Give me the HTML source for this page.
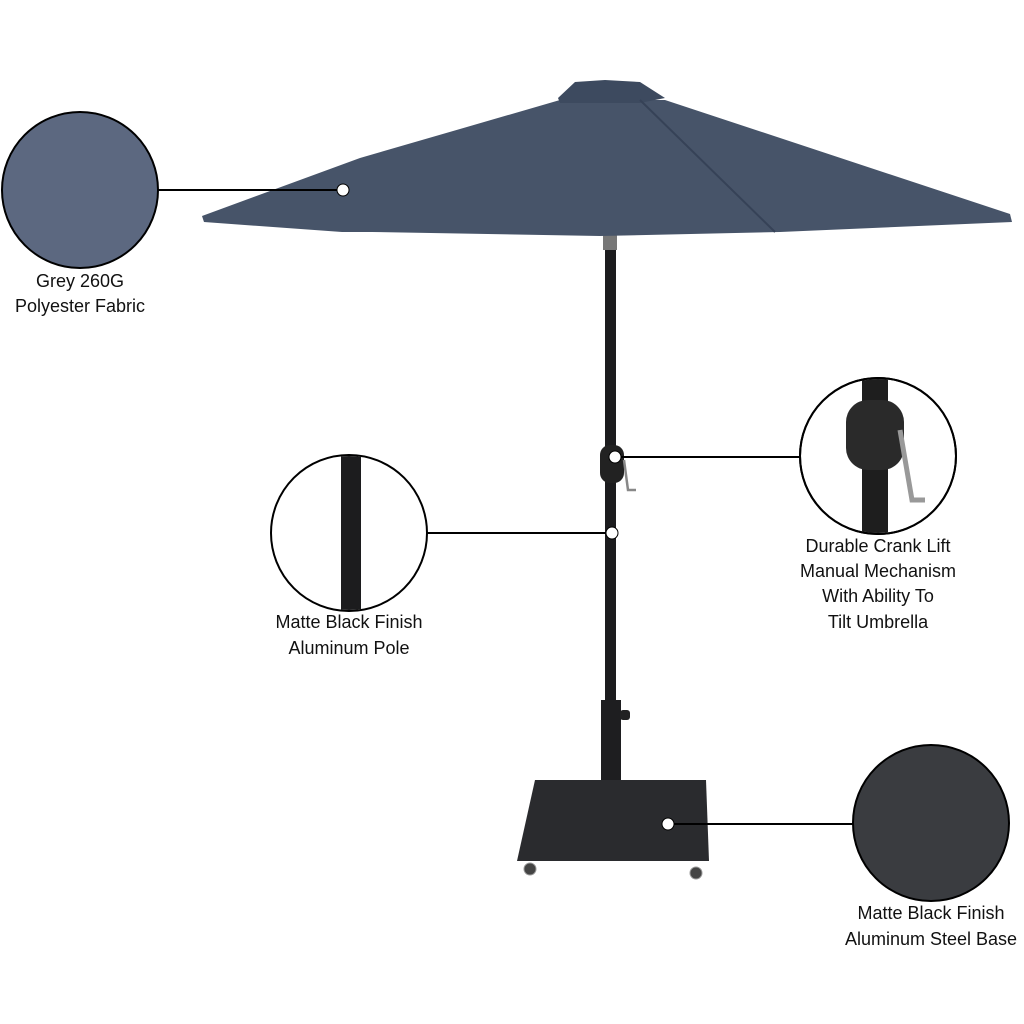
<!DOCTYPE html>
<html><head><style>
body{margin:0;background:#fff;width:1024px;height:1024px;overflow:hidden}
svg{display:block}
text{font-family:"Liberation Sans",sans-serif;font-size:18px;fill:#111;text-anchor:middle}
</style></head><body>
<svg width="1024" height="1024" viewBox="0 0 1024 1024">
<defs>
<clipPath id="c2"><circle cx="349" cy="533" r="77"/></clipPath>
<clipPath id="c3"><circle cx="878" cy="456" r="77"/></clipPath>
</defs>
<!-- pole -->
<rect x="605" y="232" width="11" height="480" fill="#1c1c1e"/>
<rect x="603" y="232" width="14" height="18" fill="#777"/>
<rect x="601" y="700" width="20" height="120" fill="#1e1e20"/>
<rect x="620" y="710" width="10" height="10" rx="3" fill="#222"/>
<rect x="600" y="445" width="24" height="38" rx="10" fill="#222"/>
<path d="M624 460 L628 490 L636 490" stroke="#888" stroke-width="2.5" fill="none"/>
<ellipse cx="615" cy="818" rx="15" ry="5" fill="#111"/>
<!-- base -->
<polygon points="535,780 706,780 709,861 517,861" fill="#2a2b2e"/>
<circle cx="530" cy="869" r="6" fill="#444" stroke="#999"/>
<circle cx="696" cy="873" r="6" fill="#444" stroke="#999"/>
<!-- canopy -->
<polygon points="560,100 665,100 1010,214 1012,222 780,232 600,236 372,232 342,232 204,222 202,216 360,158" fill="#475469"/>
<polygon points="558,98 575,82 605,80 640,82 665,98 640,103 560,103" fill="#3d4a5f"/>
<line x1="640" y1="100" x2="775" y2="232" stroke="#364257" stroke-width="2"/>
<!-- callout circles -->
<circle cx="80" cy="190" r="78" fill="#5c6880" stroke="#000" stroke-width="2"/>
<circle cx="349" cy="533" r="78" fill="#fff" stroke="#000" stroke-width="2"/>
<rect x="341" y="450" width="20" height="170" fill="#1c1c1e" clip-path="url(#c2)"/>
<circle cx="878" cy="456" r="78" fill="#fff" stroke="#000" stroke-width="2"/>
<g clip-path="url(#c3)">
<rect x="862" y="370" width="26" height="170" fill="#1e1e1e"/>
<rect x="846" y="400" width="58" height="70" rx="22" fill="#2a2a2a"/>
<path d="M900 430 L912 500 L925 500" stroke="#999" stroke-width="5" fill="none"/>
</g>
<circle cx="878" cy="456" r="78" fill="none" stroke="#000" stroke-width="2"/>
<circle cx="931" cy="823" r="78" fill="#3a3c40" stroke="#000" stroke-width="2"/>
<!-- leader lines -->
<g stroke="#000" stroke-width="2">
<line x1="158" y1="190" x2="343" y2="190"/>
<line x1="427" y1="533" x2="612" y2="533"/>
<line x1="612" y1="457" x2="800" y2="457"/>
<line x1="668" y1="824" x2="853" y2="824"/>
</g>
<g fill="#fff" stroke="#000" stroke-width="1">
<circle cx="343" cy="190" r="6"/>
<circle cx="612" cy="533" r="6"/>
<circle cx="615" cy="457" r="6"/>
<circle cx="668" cy="824" r="6"/>
</g>
<text x="80" y="287">Grey 260G</text>
<text x="80" y="312">Polyester Fabric</text>
<text x="349" y="628">Matte Black Finish</text>
<text x="349" y="654">Aluminum Pole</text>
<text x="878" y="552">Durable Crank Lift</text>
<text x="878" y="577">Manual Mechanism</text>
<text x="878" y="602">With Ability To</text>
<text x="878" y="628">Tilt Umbrella</text>
<text x="931" y="919">Matte Black Finish</text>
<text x="931" y="945">Aluminum Steel Base</text>
</svg>
</body></html>
